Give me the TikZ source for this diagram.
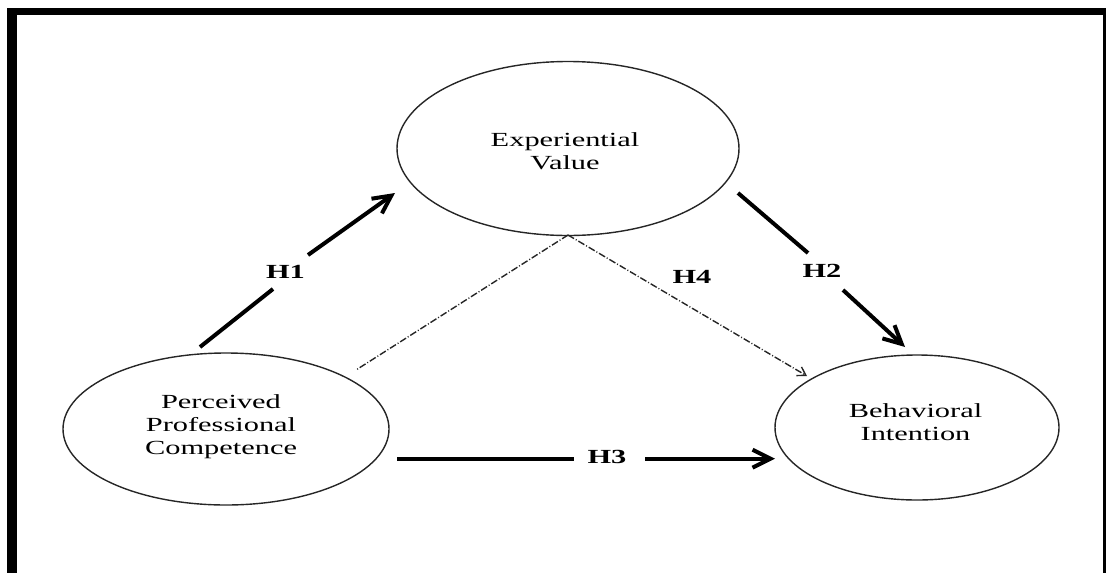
\documentclass[tikz,border=0pt]{standalone}
\usepackage{fontspec}
\setmainfont{Liberation Serif}
\newfontfamily\widefont[FakeStretch=1.52]{Liberation Serif}
\usetikzlibrary{shapes.geometric,arrows.meta}

\begin{document}
\begin{tikzpicture}[x=1pt,y=-1pt,
  construct/.style={ellipse, draw=black!85, line width=1.4pt, inner sep=0pt},
  ctext/.style={font=\widefont\fontsize{20}{23}\selectfont, align=center, inner sep=0pt, text=black},
  hlabel/.style={font=\widefont\fontsize{20}{23}\selectfont\bfseries, inner sep=0pt},
  hyp/.style={line width=4pt},
  hyptip/.style={hyp, -{Straight Barb[length=18pt,width=18pt]}},
  mediation/.style={line width=1.4pt, black!85, dash pattern=on 7pt off 2pt on 1pt off 2pt},
]
\useasboundingbox (0,0) rectangle (1107,573);

% frame
\fill (7,8) rectangle (17,573);
\fill (7,8) rectangle (1106,15);
\fill (1103,8) rectangle (1106,573);

% constructs
\node[construct, minimum width=342pt, minimum height=174pt] (ev)  at (568,148.5) {};
\node[construct, minimum width=326pt, minimum height=152pt] (ppc) at (226,429) {};
\node[construct, minimum width=284pt, minimum height=145pt] (bi)  at (917,427.5) {};

\node[ctext] (evt)  at (565,151.7) {Experiential\\Value};
\node[ctext] (ppct) at (221,426.3) {Perceived\\Professional\\Competence};
\node[ctext] (bit)  at (915.5,421.7) {Behavioral\\Intention};

% hypothesis labels
\node[hlabel] (h1) at (285.5,271.5) {H1};
\node[hlabel] (h2) at (822,270.5) {H2};
\node[hlabel] (h3) at (607,457.3) {H3};
\node[hlabel] (h4) at (692,277) {H4};

% connector end points
\coordinate (h1a) at (200,347);   \coordinate (h1b) at (273,289);
\coordinate (h1c) at (308,255);   \coordinate (h1d) at (395,193);
\coordinate (h2a) at (738,193);   \coordinate (h2b) at (808,253);
\coordinate (h2c) at (843,290);   \coordinate (h2d) at (905,347);
\coordinate (h3a) at (397,458.7); \coordinate (h3b) at (574,458.7);
\coordinate (h3c) at (645,458.7); \coordinate (h3d) at (775,458.7);
\coordinate (m0)  at (568,235);
\coordinate (m1)  at (356,370);
\coordinate (m2)  at (807,376);

% direct paths
\draw[hyp] (h1a) -- (h1b);
\draw[hyptip] (h1c) -- (h1d);
\draw[hyp] (h2a) -- (h2b);
\draw[hyptip] (h2c) -- (h2d);
\draw[hyp] (h3a) -- (h3b);
\draw[hyptip] (h3c) -- (h3d);

% mediated path
\draw[mediation] (m0) -- (m1);
\draw[mediation, -{Straight Barb[length=8pt,width=10pt]}] (m0) -- (m2);
\end{tikzpicture}
\end{document}
